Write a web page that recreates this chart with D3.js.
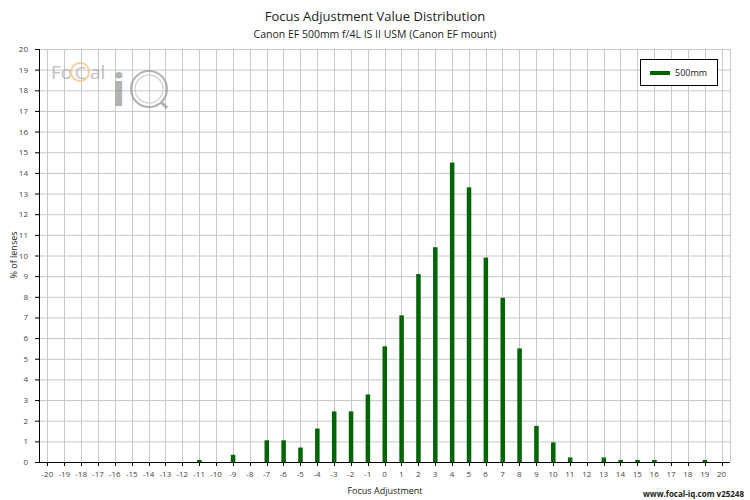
<!DOCTYPE html>
<html><head><meta charset="utf-8">
<script src="https://cdn.jsdelivr.net/npm/d3@7"></script>
<style>body{margin:0;background:#fff}text{font-family:"Open Sans",sans-serif}</style>
</head><body><svg id="c" width="750" height="500"></svg>
<script>
// DATA
const categories = d3.range(-20, 21);
const values = {
  "-11": 0.1, "-9": 0.35, "-7": 1.05, "-6": 1.05, "-5": 0.7, "-4": 1.62, "-3": 2.45, "-2": 2.45,
  "-1": 3.27, "0": 5.6, "1": 7.1, "2": 9.1, "3": 10.4, "4": 14.5, "5": 13.3, "6": 9.9, "7": 7.95,
  "8": 5.5, "9": 1.75, "10": 0.95, "11": 0.22, "13": 0.22, "14": 0.1, "15": 0.1, "16": 0.1, "19": 0.1
};
const yTicks = d3.range(0, 21);
const seriesName = "500mm";

const svg = d3.select("#c");
const pLeft = 39, pRight = 730, pTop = 49, pBottom = 462;

const x = d3.scaleBand().domain(categories).range([pLeft, pRight]);
const y = d3.scaleLinear().domain([0, 20]).range([pBottom, pTop]);
const cx = d => Math.round(x(d) + x.bandwidth() / 2) + .5;

// grid
const g = svg.append("g");
g.selectAll("line.h").data(yTicks).join("line")
  .attr("x1", pLeft).attr("x2", pRight).attr("y1", d => y(d) + .5).attr("y2", d => y(d) + .5)
  .attr("stroke", "#c8c8c8");
g.selectAll("line.v").data(categories).join("line")
  .attr("x1", cx).attr("x2", cx)
  .attr("y1", pTop).attr("y2", pBottom).attr("stroke", "#c8c8c8");
g.append("line").attr("x1", pRight + .5).attr("x2", pRight + .5).attr("y1", pTop).attr("y2", pBottom).attr("stroke", "#c8c8c8");

// logo watermark
const logo = svg.append("g").attr("opacity", 0.75);
logo.append("text").attr("x", 51).attr("y", 79).attr("font-size", 19).attr("fill", "#aaa").text("Fo");
logo.append("circle").attr("cx", 80).attr("cy", 72).attr("r", 9).attr("fill", "none").attr("stroke", "#f3c27a").attr("stroke-width", 2);
logo.append("text").attr("x", 75).attr("y", 79).attr("font-size", 17).attr("fill", "#aaa").text("C");
logo.append("text").attr("x", 90).attr("y", 79).attr("font-size", 19).attr("fill", "#aaa").text("al");
logo.append("text").attr("x", 112).attr("y", 106).attr("font-size", 44).attr("font-weight", "bold").attr("fill", "#999").text("i");
logo.append("circle").attr("cx", 149).attr("cy", 89).attr("r", 18).attr("fill", "none").attr("stroke", "#999").attr("stroke-width", 2);
logo.append("circle").attr("cx", 149).attr("cy", 89).attr("r", 14).attr("fill", "none").attr("stroke", "#ccc").attr("stroke-width", 1.5);
logo.append("line").attr("x1", 161).attr("y1", 102).attr("x2", 167).attr("y2", 108).attr("stroke", "#999").attr("stroke-width", 3);

// bars
const data = categories.filter(c => values[c] != null).map(c => ({c, v: values[c]}));
svg.selectAll("rect.bar").data(data).join("rect")
  .attr("x", d => x(d.c) + x.bandwidth() / 2 - 2).attr("width", 4.5)
  .attr("y", d => y(d.v)).attr("height", d => pBottom - y(d.v))
  .attr("fill", "#006400");

// axes
svg.append("line").attr("x1", pLeft + .5).attr("x2", pLeft + .5).attr("y1", pTop).attr("y2", pBottom).attr("stroke", "#000");
svg.append("line").attr("x1", pLeft).attr("x2", pRight).attr("y1", pBottom + .5).attr("y2", pBottom + .5).attr("stroke", "#000");
svg.selectAll("line.yt").data(yTicks).join("line")
  .attr("x1", pLeft - 4).attr("x2", pLeft).attr("y1", d => y(d) + .5).attr("y2", d => y(d) + .5).attr("stroke", "#000");
svg.selectAll("text.yl").data(yTicks).join("text")
  .attr("x", 28).attr("y", d => y(d) + 3).attr("text-anchor", "end").attr("font-size", 8).attr("fill", "#444").text(d => d);
svg.selectAll("line.xt").data(categories).join("line")
  .attr("x1", cx).attr("x2", cx)
  .attr("y1", pBottom).attr("y2", pBottom + 4).attr("stroke", "#000");
svg.selectAll("text.xl").data(categories).join("text")
  .attr("x", d => x(d) + x.bandwidth() / 2).attr("y", 477).attr("text-anchor", "middle")
  .attr("font-size", 8).attr("fill", "#444").text(d => d);

// titles
svg.append("text").attr("x", 375).attr("y", 21).attr("text-anchor", "middle").attr("font-size", 13).attr("fill", "#222").text("Focus Adjustment Value Distribution");
svg.append("text").attr("x", 375).attr("y", 38).attr("text-anchor", "middle").attr("font-size", 10.5).attr("fill", "#222").text("Canon EF 500mm f/4L IS II USM (Canon EF mount)");
svg.append("text").attr("x", 385).attr("y", 494).attr("text-anchor", "middle").attr("font-size", 9).attr("fill", "#222").text("Focus Adjustment");
svg.append("text").attr("transform", "translate(17,255) rotate(-90)").attr("text-anchor", "middle").attr("font-size", 9).attr("fill", "#222").text("% of lenses");
svg.append("text").attr("x", 744).attr("y", 497).attr("text-anchor", "end").attr("font-size", 8).attr("font-weight", "bold").attr("fill", "#222").text("www.focal-iq.com  v25248");

// legend
const lg = svg.append("g");
lg.append("rect").attr("x", 640.5).attr("y", 59.5).attr("width", 77).attr("height", 26).attr("fill", "#fff").attr("stroke", "#000");
lg.append("line").attr("x1", 650).attr("x2", 670).attr("y1", 73).attr("y2", 73).attr("stroke", "#006400").attr("stroke-width", 4);
lg.append("text").attr("x", 675).attr("y", 76).attr("font-size", 9).attr("fill", "#222").text(seriesName);
</script></body></html>
